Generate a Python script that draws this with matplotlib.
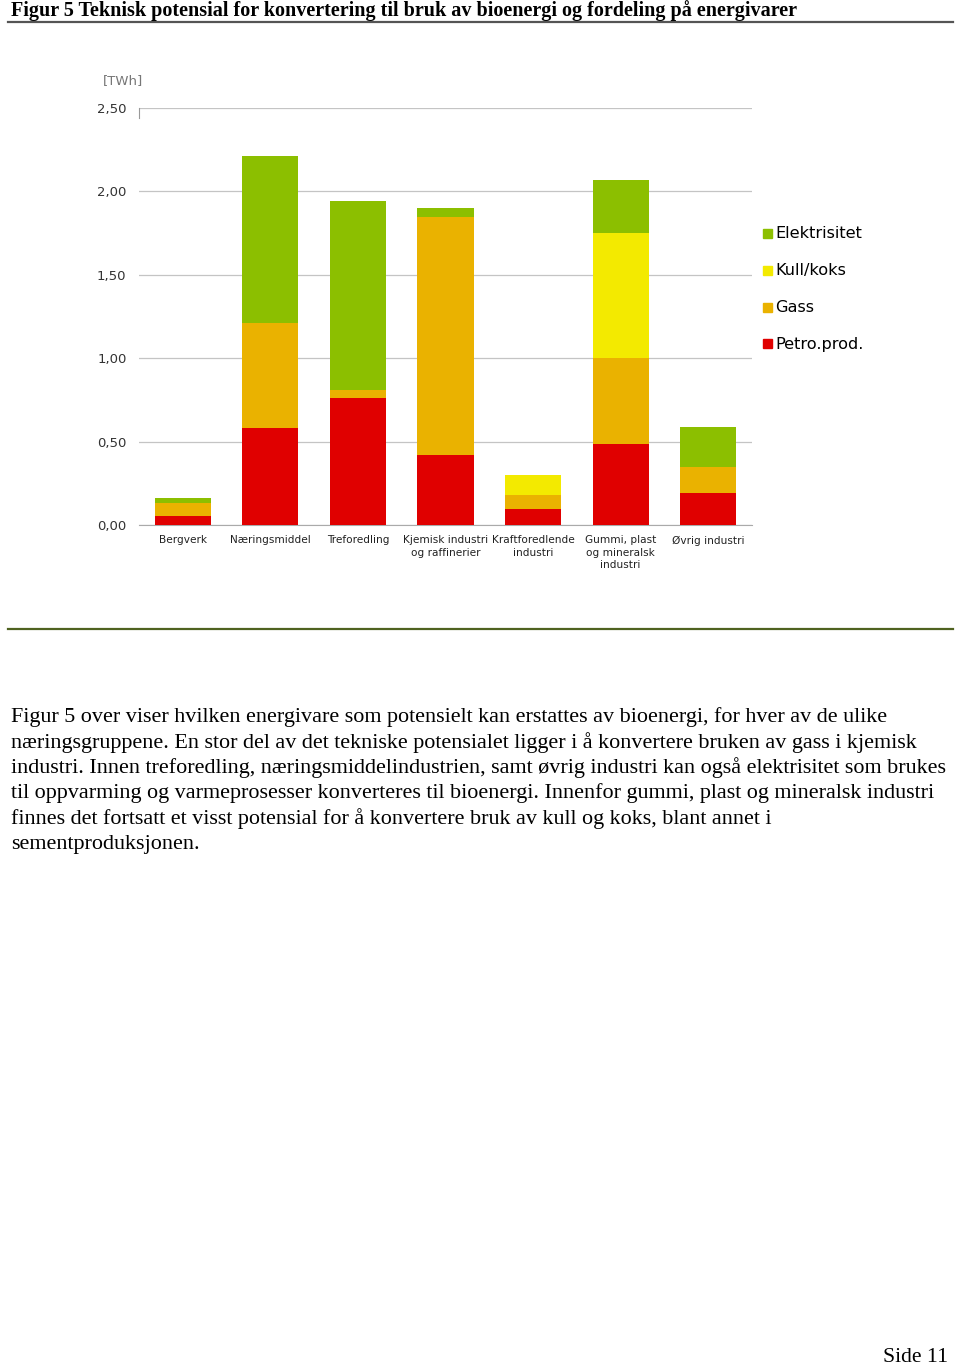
import matplotlib
matplotlib.use("Agg")
import matplotlib.pyplot as plt
from matplotlib.patches import Rectangle
from matplotlib.lines import Line2D

W, H = 960, 1367

categories = ["Bergverk", "Næringsmiddel", "Treforedling", "Kjemisk industri\nog raffinerier",
              "Kraftforedlende\nindustri", "Gummi, plast\nog mineralsk\nindustri", "Øvrig industri"]
petro = [0.055, 0.58, 0.76, 0.42, 0.095, 0.485, 0.19]
gass = [0.075, 0.63, 0.05, 1.425, 0.085, 0.515, 0.16]
kull = [0.0, 0.0, 0.0, 0.0, 0.12, 0.75, 0.0]
elek = [0.03, 1.005, 1.13, 0.055, 0.0, 0.32, 0.24]
series_names = ["Elektrisitet", "Kull/koks", "Gass", "Petro.prod."]
yticks = [0.0, 0.5, 1.0, 1.5, 2.0, 2.5]

c_el = "#8CBF00"
c_ku = "#F3EA00"
c_ga = "#EAB200"
c_pe = "#E00000"

fig = plt.figure(figsize=(W / 100, H / 100), dpi=100)

def fx(x):
    return x / W

def fy(y):
    return 1 - y / H

# title
fig.text(fx(11), fy(11), "Figur 5 Teknisk potensial for konvertering til bruk av bioenergi og fordeling på energivarer",
         family="Liberation Serif", weight="bold", fontsize=14.5, va="center", ha="left", color="black")
fig.add_artist(Line2D([fx(8), fx(953)], [fy(22), fy(22)], color="#555555", lw=1.6))
fig.add_artist(Line2D([fx(8), fx(953)], [fy(629), fy(629)], color="#4F6220", lw=1.6))

# axes
ax = fig.add_axes([fx(139), fy(525), (752 - 139) / W, (525 - 108) / H])
x = list(range(len(categories)))
bw = 0.64
b1 = petro
b2 = [p + g for p, g in zip(petro, gass)]
b3 = [a + k for a, k in zip(b2, kull)]
ax.bar(x, petro, width=bw, color=c_pe, zorder=3)
ax.bar(x, gass, width=bw, bottom=b1, color=c_ga, zorder=3)
ax.bar(x, kull, width=bw, bottom=b2, color=c_ku, zorder=3)
ax.bar(x, elek, width=bw, bottom=b3, color=c_el, zorder=3)
ax.set_xlim(-0.5, len(categories) - 0.5)
ax.set_ylim(0, 2.5)
ax.set_yticks(yticks)
ax.set_yticklabels([f"{v:.2f}".replace(".", ",") for v in yticks], fontsize=9.5, color="#333333",
                   family="DejaVu Sans")
ax.set_xticks(x)
ax.set_xticklabels(categories, fontsize=7.6, color="#222222", family="DejaVu Sans", linespacing=1.3)
ax.tick_params(axis="y", length=0, pad=9)
ax.tick_params(axis="x", length=0, pad=7.5)
for s in ["top", "right", "left"]:
    ax.spines[s].set_visible(False)
ax.spines["bottom"].set_color("#AAAAAA")
ax.grid(axis="y", color="#C4C4C4", lw=0.9, zorder=0)
ax.set_facecolor("white")
fig.add_artist(Line2D([fx(139), fx(139)], [fy(108), fy(118)], color="#999999", lw=0.8))

fig.text(fx(103), fy(81), "[TWh]", fontsize=9.5, color="#777777", va="center", ha="left", family="DejaVu Sans")

# legend
leg_cols = [c_el, c_ku, c_ga, c_pe]
leg_y = [233, 270, 307, 343]
for name, col, yy in zip(series_names, leg_cols, leg_y):
    fig.add_artist(Rectangle((fx(763), fy(yy + 5)), 9 / W, 9 / H, color=col, transform=fig.transFigure))
    fig.text(fx(775), fy(yy + 1), name, fontsize=11.6, color="black", va="center", ha="left", family="DejaVu Sans")

# body text
body = [
    "Figur 5 over viser hvilken energivare som potensielt kan erstattes av bioenergi, for hver av de ulike",
    "næringsgruppene. En stor del av det tekniske potensialet ligger i å konvertere bruken av gass i kjemisk",
    "industri. Innen treforedling, næringsmiddelindustrien, samt øvrig industri kan også elektrisitet som brukes",
    "til oppvarming og varmeprosesser konverteres til bioenergi. Innenfor gummi, plast og mineralsk industri",
    "finnes det fortsatt et visst potensial for å konvertere bruk av kull og koks, blant annet i",
    "sementproduksjonen.",
]
for i, line in enumerate(body):
    fig.text(fx(11), fy(717 + i * 25.4), line, family="Liberation Serif", fontsize=15.9,
             va="center", ha="left", color="black")

fig.text(fx(948), fy(1358), "Side 11", family="Liberation Serif", fontsize=15.6, va="center", ha="right")

fig.savefig("out.png", dpi=100, facecolor="white")
